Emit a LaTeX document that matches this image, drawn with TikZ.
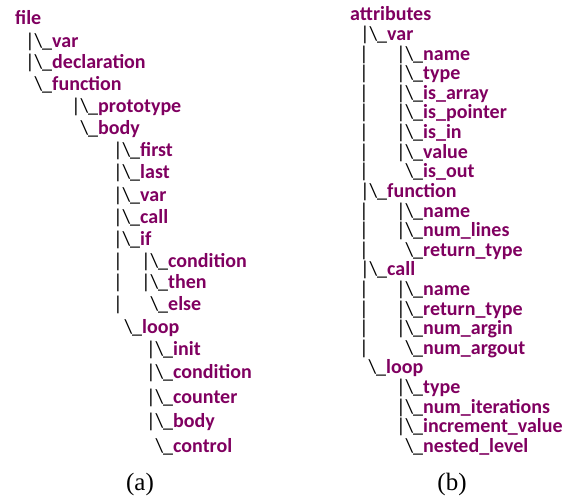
\documentclass[tikz,border=0pt]{standalone}
\usepackage{fontspec}
\setmainfont{Carlito}
\newfontfamily\capfont{Liberation Serif}
\definecolor{keyword}{RGB}{128,0,96}

\begin{document}
\begin{tikzpicture}[x=1pt, y=-1pt,
    leaf/.style={anchor=base west, inner sep=0pt, text=keyword, font=\fontsize{20}{24}\selectfont\bfseries},
    tee/.style={leaf, execute at begin node={\llap{\color{black}\mdseries|\textbackslash\_}}},
    elbow/.style={leaf, execute at begin node={\llap{\color{black}\mdseries\textbackslash\_}}},
    rail/.style={anchor=base, inner sep=0pt, font=\fontsize{20}{24}\selectfont},
    caption/.style={anchor=base, inner sep=0pt, font=\fontsize{25}{30}\selectfont\capfont}
]
\useasboundingbox (0,0) rectangle (562,500);

% (a) file tree
\node[leaf] (file) at (15, 25) {file};
\node[tee] (fvar) at (52, 48) {var};
\node[tee] (fdecl) at (52, 69) {declaration};
\node[elbow] (ffunc) at (52, 91) {function};
\node[tee] (fproto) at (98, 113) {prototype};
\node[elbow] (fbody) at (98, 135) {body};
\node[tee] (bfirst) at (140, 157) {first};
\node[tee] (blast) at (140, 178) {last};
\node[tee] (bvar) at (140, 201) {var};
\node[tee] (bcall) at (140, 223) {call};
\node[tee] (bif) at (140, 245) {if};
\node[tee] (ifcond) at (168, 267) {condition};
\node[tee] (ifthen) at (168, 288) {then};
\node[elbow] (ifelse) at (168, 310) {else};
\node[elbow] (bloop) at (142, 333) {loop};
\node[tee] (lpinit) at (173, 355) {init};
\node[tee] (lpcond) at (173, 378) {condition};
\node[tee] (lpcount) at (173, 403) {counter};
\node[tee] (lpbody) at (173, 427) {body};
\node[elbow] (lpctrl) at (173, 452) {control};
\node[rail] (ifrail1) at (118, 267) {|};
\node[rail] (ifrail2) at (118, 288) {|};
\node[rail] (ifrail3) at (118, 310) {|};

% (b) attribute tree
\node[leaf] (attr) at (350, 21) {attributes};
\node[tee] (avar) at (387, 40.6) {var};
\node[tee] (vname) at (423, 60.2) {name};
\node[tee] (vtype) at (423, 79.8) {type};
\node[tee] (varray) at (423, 99.4) {is\_array};
\node[tee] (vptr) at (423, 119) {is\_pointer};
\node[tee] (vin) at (423, 138.6) {is\_in};
\node[tee] (vvalue) at (423, 158.2) {value};
\node[elbow] (vout) at (423, 177.8) {is\_out};
\node[tee] (afunc) at (387, 197.4) {function};
\node[tee] (fname) at (423, 217) {name};
\node[tee] (flines) at (423, 236.6) {num\_lines};
\node[elbow] (fret) at (423, 256.2) {return\_type};
\node[tee] (acall) at (387, 275.8) {call};
\node[tee] (cname) at (423, 295.4) {name};
\node[tee] (cret) at (423, 315) {return\_type};
\node[tee] (cargin) at (423, 334.6) {num\_argin};
\node[elbow] (cargout) at (423, 354.2) {num\_argout};
\node[elbow] (aloop) at (386, 373.8) {loop};
\node[tee] (ltype) at (423, 393.4) {type};
\node[tee] (liter) at (423, 413) {num\_iterations};
\node[tee] (linc) at (423, 432.6) {increment\_value};
\node[elbow] (lnest) at (423, 452.2) {nested\_level};
\foreach \y [count=\i] in {60.2, 79.8, 99.4, 119, 138.6, 158.2, 177.8, 217, 236.6, 256.2, 295.4, 315, 334.6, 354.2}
    \node[rail] (arail\i) at (364, \y) {|};

% captions
\node[caption] (capa) at (140, 490) {(a)};
\node[caption] (capb) at (452, 490) {(b)};

\end{tikzpicture}
\end{document}
